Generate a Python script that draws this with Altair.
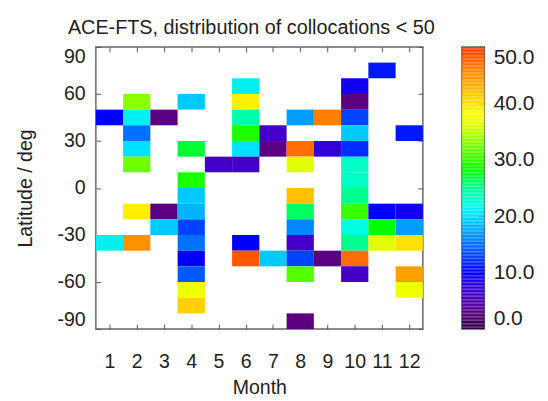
import altair as alt
import pandas as pd
import numpy as np

# ---- data (month, latitude-bin bottom, number of collocations)
months = [1, 1,
          2, 2, 2, 2, 2, 2, 2,
          3, 3, 3,
          4, 4, 4, 4, 4, 4, 4, 4, 4, 4, 4,
          5,
          6, 6, 6, 6, 6, 6, 6, 6,
          7, 7, 7,
          8, 8, 8, 8, 8, 8, 8, 8, 8, 8,
          9, 9, 9,
          10, 10, 10, 10, 10, 10, 10, 10, 10, 10, 10, 10, 10,
          11, 11, 11, 11,
          12, 12, 12, 12, 12, 12]
lat_bottom = [40, -40,
              50, 40, 30, 20, 10, -20, -40,
              40, -20, -30,
              50, 20, 0, -10, -20, -30, -40, -50, -60, -70, -80,
              10,
              60, 50, 40, 30, 20, 10, -40, -50,
              30, 20, -50,
              40, 20, 10, -10, -20, -30, -40, -50, -60, -90,
              40, 20, -50,
              60, 50, 40, 30, 20, 10, 0, -10, -20, -30, -40, -50, -60,
              70, -20, -30, -40,
              30, -20, -30, -40, -60, -70]
counts = [10, 21,
          33, 21, 15, 20, 32, 39, 45,
          3, 3, 19,
          19, 27, 29, 19, 18, 13, 15, 10, 14, 37, 41,
          6,
          21, 39, 24, 29, 20, 6, 10, 48,
          6, 3, 19,
          17, 47, 36, 42, 26, 16, 6, 13, 31, 3,
          46, 7, 3,
          9, 3, 13, 19, 12, 23, 23, 25, 30, 22, 25, 47, 6,
          11, 10, 28, 36,
          11, 9, 17, 40, 44, 37]

month_ticks = list(range(1, 13))
lat_ticks = [-90, -60, -30, 0, 30, 60, 90]
cbar_ticks = [0, 10, 20, 30, 40, 50]
cbar_inner_ticks = [10, 20, 30, 40]

color_domain = [0, 3, 6, 10, 15, 20, 22, 25, 28, 32, 36, 38, 42, 46, 50]
color_range = ["#2c0040", "#5a0080", "#4400c8", "#0000ff", "#0070ff", "#00e0ff",
               "#00ffe0", "#00ff90", "#00ff00", "#70ff00", "#e0ff00", "#ffff00",
               "#ffc000", "#ff8000", "#ff3000"]

df = pd.DataFrame({"month": months, "lat": lat_bottom, "n": counts})
df["m0"] = df["month"] - 0.5
df["m1"] = df["month"] + 0.5
df["lat2"] = df["lat"] + 10

W, H = 335, 289
FONT = "Liberation Sans"
TXT = "#222222"
TICK = "#555555"

cscale = alt.Scale(domain=color_domain, range=color_range, interpolate="rgb", clamp=True)
xscale = alt.Scale(domain=[0.5, 12.5], nice=False, zero=False)
yscale = alt.Scale(domain=[-90, 90], nice=False, zero=False)

heat = alt.Chart(df).mark_rect().encode(
    x=alt.X("m0:Q", scale=xscale,
            axis=alt.Axis(orient="bottom", values=month_ticks, title="Month",
                          tickSize=0, domain=False, grid=False, labelPadding=23,
                          titlePadding=7, labelFontSize=20, titleFontSize=20,
                          labelFont=FONT, titleFont=FONT, labelColor=TXT,
                          titleColor=TXT, titleFontWeight="normal")),
    x2="m1",
    y=alt.Y("lat:Q", scale=yscale,
            axis=alt.Axis(orient="left", values=lat_ticks, title="Latitude / deg",
                          labelExpr="'' + datum.value",
                          tickSize=0, domain=False, grid=False, labelPadding=11,
                          titlePadding=22, labelFontSize=20, titleFontSize=20,
                          labelFont=FONT, titleFont=FONT, labelColor=TXT,
                          titleColor=TXT, titleFontWeight="normal", labelFlush=True)),
    y2="lat2",
    color=alt.Color("n:Q", scale=cscale, legend=None),
)

def tick_axis(orient, values, offset):
    return alt.Axis(orient=orient, values=values, offset=offset, labels=False,
                    title=None, domain=False, grid=False, tickSize=5,
                    tickColor=TICK, tickWidth=1)

ticks_a = alt.Chart(df).mark_rect(opacity=0).encode(
    x=alt.X("m0:Q", scale=xscale, axis=tick_axis("top", month_ticks, -H)),
    x2="m1",
    y=alt.Y("lat:Q", scale=yscale, axis=tick_axis("right", lat_ticks, -W)),
    y2="lat2",
)
ticks_b = alt.Chart(df).mark_rect(opacity=0).encode(
    x=alt.X("m0:Q", scale=xscale, axis=tick_axis("bottom", month_ticks, -H)),
    x2="m1",
    y=alt.Y("lat:Q", scale=yscale, axis=tick_axis("left", lat_ticks, -W)),
    y2="lat2",
)

main = alt.layer(heat, ticks_a, ticks_b).resolve_axis(
    x="independent", y="independent").properties(width=W, height=H)

# ---- colour bar
cb_v = np.arange(0, 50, 0.25)
cb = pd.DataFrame({"v": cb_v, "v2": cb_v + 0.25, "c0": 0.0, "c1": 1.0})
cbscale = alt.Scale(domain=[0, 50], nice=False, zero=False)
cbx = alt.Scale(domain=[0, 1], nice=False, zero=False)
bar = alt.Chart(cb).mark_rect().encode(
    x=alt.X("c0:Q", scale=cbx, axis=None),
    x2="c1",
    y=alt.Y("v:Q", scale=cbscale,
            axis=alt.Axis(orient="right", values=cbar_ticks, format=".1f", title=None,
                          tickSize=0, domain=False, grid=False, labelPadding=9,
                          labelFontSize=21.5, labelFont=FONT, labelColor=TXT,
                          labelFlush=True)),
    y2="v2",
    color=alt.Color("v:Q", scale=cscale, legend=None),
)
bar_ticks = alt.Chart(cb).mark_rect(opacity=0).encode(
    x=alt.X("c0:Q", scale=cbx, axis=None),
    x2="c1",
    y=alt.Y("v:Q", scale=cbscale, axis=alt.Axis(orient="left", values=cbar_inner_ticks,
                                                 offset=-23, labels=False, title=None,
                                                 domain=False, grid=False, tickSize=6,
                                                 tickColor="#333333")),
    y2="v2",
)
colorbar = alt.layer(bar, bar_ticks).resolve_axis(y="independent").properties(width=23, height=H)

chart = alt.hconcat(main, colorbar, spacing=37).properties(
    title=alt.TitleParams("ACE-FTS, distribution of collocations < 50", fontSize=20.3,
                          font=FONT, fontWeight="normal", color=TXT, anchor="start",
                          dx=54, offset=8),
    background="white",
    padding={"left": 7, "top": 5, "right": 5, "bottom": 5},
).configure_view(stroke="#666666", strokeWidth=1.5).resolve_scale(color="shared")

chart.save("out.html", embed_options={"renderer": "svg", "actions": False})
